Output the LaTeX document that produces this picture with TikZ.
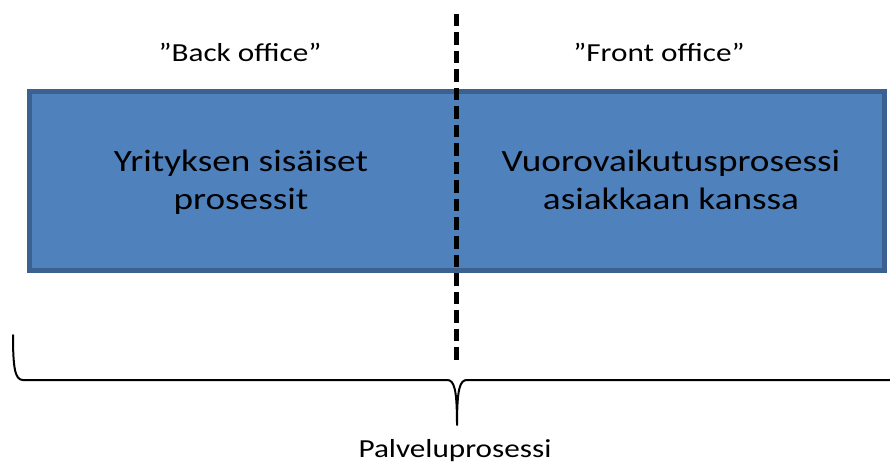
\documentclass[tikz,border=0pt]{standalone}
\usepackage{fontspec}
\setmainfont[FakeStretch=1.2]{Carlito}
\definecolor{boxfill}{HTML}{4F81BD}
\definecolor{boxline}{HTML}{3A6190}
\tikzset{
  lbl/.style={inner sep=0pt, anchor=base, font=\fontsize{26}{31}\selectfont},
  boxtext/.style={inner sep=0pt, anchor=base, align=center, font=\fontsize{31}{38}\selectfont},
  mainbox/.style={draw=boxline, fill=boxfill, line width=5pt},
  divider/.style={line width=5pt, dash pattern=on 12.5pt off 6pt},
  bracepath/.style={line width=2pt, line cap=round, line join=round}
}
\begin{document}
\begin{tikzpicture}[x=1pt, y=-1pt]
\useasboundingbox (0,0) rectangle (890,462);
\path[mainbox] (29,92) rectangle (884.5,270);
\node[boxtext] (left) at (241,210) {Yrityksen sisäiset\\prosessit};
\node[boxtext] (right) at (671,210) {Vuorovaikutusprosessi\\asiakkaan kanssa};
\node[lbl] (back) at (240,62) {”Back office”};
\node[lbl] (front) at (659,62) {”Front office”};
\coordinate (dtop) at (456.5,14);
\coordinate (dbot) at (456.5,360);
\draw[divider] (dtop) -- (dbot);
\coordinate (bl) at (13,335);
\coordinate (tip) at (457,425);
\coordinate (br) at (895,380);
\draw[bracepath] (bl) .. controls (13,368) and (15,380) .. (23,380) -- (447,380)
  .. controls (454,380) and (457,388) .. (tip)
  .. controls (457,388) and (460,380) .. (467,380) -- (br);
\node[lbl] (palvelu) at (455,457) {Palveluprosessi};
\end{tikzpicture}
\end{document}
